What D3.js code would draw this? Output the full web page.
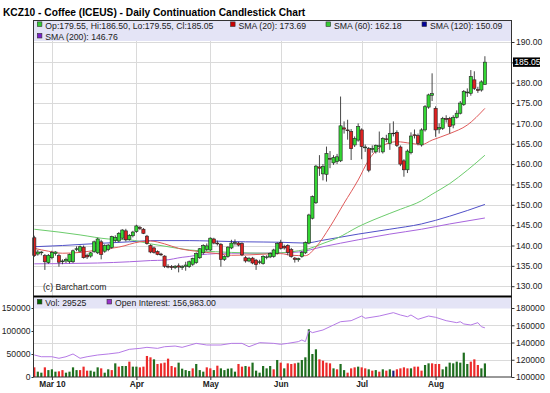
<!DOCTYPE html>
<html>
<head>
<meta charset="utf-8">
<script src="https://cdn.jsdelivr.net/npm/d3@7"></script>
<style>
  body { margin: 0; background: #fff; }
  svg { display: block; font-family: "Liberation Sans", Arial, Helvetica, sans-serif; }
</style>
</head>
<body>
<svg id="chart" width="550" height="393"></svg>
<script>
// daily bars, oldest first (late Feb .. Aug 20, 2010)
const opens = [141.9,137.9,138.2,137.5,135.8,137.0,138.0,137.5,136.0,136.2,
  136.0,136.0,139.0,138.6,139.6,137.6,137.4,138.5,138.2,140.9,
  138.6,139.0,139.5,141.2,141.1,141.8,143.6,141.5,142.4,143.4,
  144.4,144.0,142.3,140.0,139.4,138.5,137.9,137.4,134.9,134.8,
  134.6,135.0,134.6,134.9,134.8,135.4,135.8,137.0,138.2,139.0,
  138.9,141.6,140.6,140.3,136.6,137.3,139.4,140.6,140.6,140.5,
  137.0,136.2,136.9,136.4,135.9,135.6,137.1,137.2,137.3,138.1,
  140.7,139.8,140.0,139.0,136.9,136.5,137.3,138.2,140.6,146.7,
  150.5,159.3,157.6,157.5,161.4,160.3,160.6,160.8,168.9,168.4,
  168.0,164.7,165.9,168.4,164.0,163.8,163.6,163.0,164.3,163.0,
  166.2,165.1,167.6,167.8,164.2,160.8,158.6,162.8,167.2,167.0,
  164.7,168.4,174.0,176.9,173.7,168.6,168.8,171.2,171.2,169.6,
  171.5,172.5,174.6,177.5,177.4,180.7,178.3,178.2,179.55];
const highs = [142.4,138.9,138.6,137.9,137.9,138.7,138.6,138.0,136.6,137.0,
  138.0,139.0,139.8,140.0,140.0,138.0,138.4,141.2,141.9,141.4,
  140.3,140.4,142.4,142.5,143.3,144.0,144.1,142.8,143.6,145.1,
  144.8,144.3,142.6,140.3,139.7,138.8,138.2,137.6,135.4,135.2,
  135.2,135.6,135.2,136.0,136.3,137.0,138.3,139.4,140.3,140.5,
  142.0,141.9,141.2,140.6,137.6,139.8,141.4,141.5,140.9,140.8,
  137.4,137.2,137.2,136.7,136.5,137.6,137.6,138.3,139.2,140.8,
  141.4,140.2,140.3,139.4,137.2,137.0,138.6,141.0,147.8,152.3,
  159.8,162.2,160.0,164.3,163.2,162.2,162.5,176.6,170.5,170.9,
  168.6,166.8,170.0,168.8,164.8,164.2,164.6,164.8,168.0,166.6,
  167.2,170.0,170.5,168.3,164.6,161.2,163.6,167.8,168.5,167.5,
  168.8,174.5,177.3,182.3,174.2,170.0,171.6,172.0,171.6,172.0,
  173.2,175.5,178.2,178.6,183.1,182.8,179.0,180.6,186.5];
const lows = [137.2,137.5,137.6,134.0,135.5,136.6,137.5,134.8,135.4,135.7,
  135.6,135.7,138.6,138.3,136.8,136.7,137.0,138.2,137.9,136.6,
  138.2,138.6,139.2,140.8,140.8,141.5,141.0,141.2,142.0,143.1,
  143.8,142.8,140.2,138.1,138.0,137.6,137.4,134.5,134.4,134.0,
  134.2,133.4,134.0,133.8,134.5,135.0,135.5,136.7,137.8,138.6,
  138.6,140.3,140.0,134.8,136.2,137.0,139.1,140.0,139.8,137.4,
  135.8,135.9,135.4,134.0,135.4,135.3,136.6,136.9,137.0,137.8,
  139.0,139.0,137.6,137.0,135.8,136.0,137.0,137.9,140.3,146.4,
  150.2,157.1,156.0,155.7,159.0,159.8,160.0,160.5,167.5,166.0,
  161.0,164.2,165.5,161.2,163.0,158.0,162.8,162.6,162.8,162.6,
  165.4,163.5,166.8,164.2,159.5,156.9,157.8,162.4,166.3,164.6,
  164.3,168.0,173.6,175.5,166.7,167.5,168.4,170.2,167.5,168.8,
  171.2,172.2,174.3,176.5,176.8,178.2,177.5,177.8,179.55];
const closes = [137.5,138.4,138.4,136.0,137.6,138.3,138.4,135.9,136.2,136.6,
  137.8,138.7,139.2,139.7,137.0,137.2,138.2,140.9,141.6,137.8,
  140.0,140.1,142.2,142.0,143.0,143.8,141.4,142.5,143.3,144.8,
  144.2,143.0,140.5,138.4,138.3,137.8,137.7,134.9,134.7,134.6,
  134.9,134.7,134.8,135.2,136.0,136.8,138.0,139.2,140.0,139.9,
  141.8,140.6,140.4,136.6,137.3,139.6,140.6,140.7,140.1,137.7,
  136.2,136.8,135.7,135.3,136.0,137.3,137.2,138.0,138.9,140.5,
  139.3,139.4,138.3,137.3,136.6,136.8,138.3,140.7,147.5,152.0,
  159.5,159.0,159.4,162.6,161.2,161.6,161.8,169.4,168.6,168.2,
  163.8,166.3,169.2,164.3,164.2,158.5,163.8,164.6,164.5,166.3,
  166.0,167.5,167.5,164.6,160.0,158.6,163.2,166.9,167.0,165.1,
  168.4,174.1,177.0,177.3,168.4,169.0,171.2,171.0,169.2,171.5,
  172.5,175.0,177.8,177.7,181.5,178.6,178.1,180.2,185.05];

const volumes = [21000,11600,9400,21000,15000,16700,11600,12300,15000,9400,
  11600,21000,15000,15000,22500,13800,13800,11600,21000,18800,
  9400,16700,15000,29700,22500,23900,23900,33400,22500,22500,
  21000,22500,45700,42800,38400,28300,29700,31200,39900,23900,
  21000,31200,18100,15000,13000,18800,28300,15000,11600,21000,
  18800,15000,24600,18800,15000,18100,18800,11600,28300,22500,
  23900,22500,31200,13800,9400,23900,18800,23900,16700,37000,
  31200,18800,29700,28300,29700,31200,37000,42800,103700,50000,
  60200,38400,35500,31200,29700,18800,16700,28300,15000,9400,
  18800,21000,22500,21000,18800,16700,13800,15000,11600,16700,
  13800,16700,13800,16700,18800,21000,18800,18800,22500,22500,
  13800,26100,29700,29700,28300,28300,16700,22500,31200,29700,
  33400,31200,52900,28300,33400,38400,26100,18800,29525];
// u = up day, d = down day, n = unchanged
const volumeDir = ('duuduuuddu uuuddduuud uududuuduu dddduddddd duuuuduuud ' +
  'duduuuuudd uduuuuuudu duddduuuuu udddduduud dduddududu ' +
  'dunddddudd duuddduuuu uuuuddduu').replace(/ /g, '');

// [bar index, value]
const sma20 = [[0,139.3],[4,138.6],[8,138.1],[13,138.3],[18,138.9],[24,139.6],[30,140.9],
  [33,141.1],[37,140.4],[41,139.3],[44,138.8],[47,138.5],[52,138.0],[56,137.6],[61,137.7],
  [66,137.9],[70,138.0],[73,137.6],[77,137.5],[80,139.6],[84,144.6],[88,150.4],[92,156.1],
  [95,161.0],[98,164.0],[103,165.5],[107,165.1],[110,164.8],[113,165.9],[118,167.5],
  [123,169.6],[128,173.69]];
const sma60 = [[0,144.0],[7,143.3],[13,142.6],[21,141.6],[27,141.4],[33,140.4],[38,139.7],
  [44,138.9],[47,138.7],[56,138.3],[66,138.1],[70,138.2],[75,138.7],[78,139.2],[82,140.5],
  [86,141.8],[92,144.6],[101,147.9],[104,148.9],[110,151.0],[113,152.6],[118,155.2],
  [123,158.5],[128,162.18]];
const sma120 = [[0,139.7],[8,140.0],[18,140.5],[27,140.9],[33,141.2],[44,141.2],[50,141.1],
  [60,140.9],[70,140.8],[77,140.6],[82,141.3],[92,142.8],[101,144.0],[110,145.3],
  [118,147.2],[128,150.09]];
const sma200 = [[0,135.5],[18,135.7],[27,136.0],[33,136.3],[37,136.4],[42,137.1],[44,137.3],
  [47,137.7],[56,138.1],[61,138.1],[70,138.2],[75,138.4],[82,139.7],[92,141.4],[101,142.8],
  [110,144.0],[118,145.3],[128,146.76]];
const openInterest = [[0,125500],[2,123500],[5,123500],[7,121700],[9,123500],[11,126700],
  [13,121700],[15,123500],[18,125500],[21,126700],[24,128200],[27,132100],[30,133200],
  [32,134400],[35,133200],[37,135100],[40,135900],[42,134400],[46,139000],[49,137100],
  [53,137100],[56,139000],[59,139000],[61,135100],[64,139800],[68,139000],[70,137900],
  [72,139000],[75,141000],[76,142900],[77,141000],[78,153700],[79,151400],[82,154500],
  [85,160300],[87,164100],[90,165300],[93,170700],[94,168100],[98,170700],[102,174600],
  [104,171900],[106,169900],[107,171900],[109,166900],[112,170700],[114,169200],
  [117,165300],[120,163000],[121,164100],[122,161500],[124,160300],[126,163000],
  [127,158300],[128,156983]];

const monthLabels = ['Mar 10', 'Apr', 'May', 'Jun', 'Jul', 'Aug'];
const monthIdx = [5, 29, 50, 70, 93, 114];
const priceTicks = d3.range(130, 191, 5);
const volTicks = [0, 50000, 100000, 150000];
const oiTicks = [100000, 120000, 140000, 160000, 180000];

const svg = d3.select('#chart');
const left = 33.5, right = 511.5;
const priceTop = 20.5, priceBottom = 296.5, volTop = 297.5, volBottom = 377;

const x = d3.scaleLinear().domain([0, closes.length - 1]).range([34.3, 484.9]);
const y = d3.scaleLinear().domain([130, 190]).range([286.2, 42]);
const vy = d3.scaleLinear().domain([0, 150000]).range([377, 308]);
const oy = d3.scaleLinear().domain([100000, 180000]).range([377, 308]);

const GRID = '#dadada';
const UP = '#33d633', DOWN = '#dd2222';
const last = closes[closes.length - 1];

svg.append('rect').attr('width', 550).attr('height', 393).attr('fill', '#fff');

svg.append('text')
  .attr('x', 3).attr('y', 15.5)
  .attr('font-size', 10.2).attr('font-weight', 'bold')
  .text('KCZ10 - Coffee (ICEUS) - Daily Continuation Candlestick Chart');

// grid
const grid = svg.append('g').attr('stroke', GRID).attr('stroke-width', 1);
priceTicks.forEach(p => {
  const yy = Math.round(y(p)) + 0.5;
  grid.append('line').attr('x1', left).attr('x2', right).attr('y1', yy).attr('y2', yy);
});
[120000, 140000, 160000].forEach(v => {
  const yy = Math.round(oy(v)) + 0.5;
  grid.append('line').attr('x1', left).attr('x2', right).attr('y1', yy).attr('y2', yy);
});
monthIdx.forEach(i => {
  const xx = Math.round(x(i)) + 0.5;
  grid.append('line').attr('x1', xx).attr('x2', xx).attr('y1', priceTop).attr('y2', volBottom);
});

// legend bands
svg.append('rect').attr('x', left + 0.5).attr('y', priceTop + 0.5)
  .attr('width', right - left - 1).attr('height', 20).attr('fill', '#e4e4f6');
svg.append('rect').attr('x', left + 0.5).attr('y', volTop + 0.5)
  .attr('width', right - left - 1).attr('height', 10.5).attr('fill', '#e4e4f6');

// moving averages
const smaLine = d3.line().x(d => x(d[0])).y(d => y(d[1])).curve(d3.curveMonotoneX);
[[sma200, '#a865dd'], [sma120, '#5050c8'], [sma60, '#6ccc6c'], [sma20, '#e05a5a']].forEach(([s, c]) => {
  svg.append('path').attr('d', smaLine(s)).attr('fill', 'none')
    .attr('stroke', c).attr('stroke-width', 1);
});

// candles
const candles = svg.append('g');
closes.forEach((c, i) => {
  const o = opens[i];
  const cx = x(i);
  candles.append('line')
    .attr('x1', cx).attr('x2', cx)
    .attr('y1', y(highs[i])).attr('y2', y(lows[i]))
    .attr('stroke', '#333').attr('stroke-width', 0.9);
  const top = y(Math.max(o, c));
  const h = Math.max(0.6, Math.abs(y(o) - y(c)));
  candles.append('rect')
    .attr('x', cx - 1.6).attr('y', top)
    .attr('width', 3.2).attr('height', h)
    .attr('fill', c >= o ? UP : DOWN)
    .attr('stroke', '#222').attr('stroke-width', 0.6);
});

// volume bars
const volColor = { u: '#1f6e1f', d: '#ec2a2a', n: '#1c1c7a' };
svg.append('g').selectAll('rect').data(volumes).join('rect')
  .attr('x', (d, i) => x(i) - 1.1)
  .attr('y', d => vy(d))
  .attr('width', 2.2)
  .attr('height', d => vy(0) - vy(d))
  .attr('fill', (d, i) => volColor[volumeDir[i]]);

// open interest
svg.append('path')
  .attr('d', d3.line().x(d => x(d[0])).y(d => oy(d[1]))(openInterest))
  .attr('fill', 'none').attr('stroke', '#b57ae6').attr('stroke-width', 1);

// panel frames
svg.append('rect').attr('x', left).attr('y', priceTop)
  .attr('width', right - left).attr('height', volBottom - priceTop)
  .attr('fill', 'none').attr('stroke', '#333').attr('stroke-width', 1);
svg.append('line').attr('x1', left).attr('x2', right)
  .attr('y1', priceBottom).attr('y2', priceBottom)
  .attr('stroke', '#000').attr('stroke-width', 2);

// axes
function styleAxis(g, size) {
  g.select('.domain').remove();
  g.selectAll('line').attr('stroke', '#333');
  g.selectAll('text').attr('font-size', size).attr('fill', '#222')
    .attr('font-family', '"Liberation Sans", Arial, Helvetica, sans-serif');
}
svg.append('g').attr('transform', `translate(${right},0)`)
  .call(d3.axisRight(y).tickValues(priceTicks).tickSize(3).tickPadding(1.5).tickFormat(d3.format('.2f')))
  .call(g => styleAxis(g, 8.6))
  // the last-price flag sits where this label would be
  .call(g => g.selectAll('.tick text').filter(d => Math.abs(y(d) - y(last)) < 8).remove());
svg.append('g').attr('transform', `translate(${left},0)`)
  .call(d3.axisLeft(vy).tickValues(volTicks).tickSize(2).tickPadding(1).tickFormat(d3.format('d')))
  .call(g => styleAxis(g, 8.6));
svg.append('g').attr('transform', `translate(${right},0)`)
  .call(d3.axisRight(oy).tickValues(oiTicks).tickSize(3).tickPadding(1.5).tickFormat(d3.format('d')))
  .call(g => styleAxis(g, 8.6));
svg.append('g').attr('transform', `translate(0,${volBottom})`)
  .call(d3.axisBottom(x).tickValues(monthIdx).tickSize(3).tickPadding(1.5)
    .tickFormat((d, i) => monthLabels[i]))
  .call(g => styleAxis(g, 8.3))
  .call(g => g.selectAll('text').attr('font-weight', 'bold'));

// last price flag
svg.append('rect').attr('x', 513).attr('y', y(last) - 4.7)
  .attr('width', 27).attr('height', 9.4).attr('fill', '#000');
svg.append('text').attr('x', 514.3).attr('y', y(last) + 3)
  .attr('font-size', 8.6).attr('fill', '#fff').text(last.toFixed(2));

svg.append('text').attr('x', 43).attr('y', 289.5)
  .attr('font-size', 8.6).attr('fill', '#222').text('(c) Barchart.com');

// legends
function legendItem(lx, ly, color, label) {
  svg.append('rect').attr('x', lx).attr('y', ly - 6.6).attr('width', 4.6).attr('height', 4.6)
    .attr('fill', color).attr('stroke', '#333').attr('stroke-width', 0.6);
  svg.append('text').attr('x', lx + 8).attr('y', ly).attr('font-size', 8.7).attr('fill', '#222').text(label);
}
const o = opens.length - 1;
legendItem(37.3, 28.5, '#33cc33',
  `Op:${opens[o].toFixed(2)}, Hi:${highs[o].toFixed(2)}, Lo:${lows[o].toFixed(2)}, Cl:${closes[o].toFixed(2)}`);
legendItem(230.5, 28.5, '#cc0000', `SMA (20): ${sma20[sma20.length - 1][1].toFixed(2)}`);
legendItem(326, 28.5, '#33cc33', `SMA (60): ${sma60[sma60.length - 1][1].toFixed(2)}`);
legendItem(422, 28.5, '#000099', `SMA (120): ${sma120[sma120.length - 1][1].toFixed(2)}`);
legendItem(37.3, 40, '#7a1fcc', `SMA (200): ${sma200[sma200.length - 1][1].toFixed(2)}`);
legendItem(37.3, 306, '#006600', `Vol: ${volumes[volumes.length - 1]}`);
legendItem(107, 306, '#9933cc',
  `Open Interest: ${d3.format(',.2f')(openInterest[openInterest.length - 1][1])}`);
</script>
</body>
</html>
